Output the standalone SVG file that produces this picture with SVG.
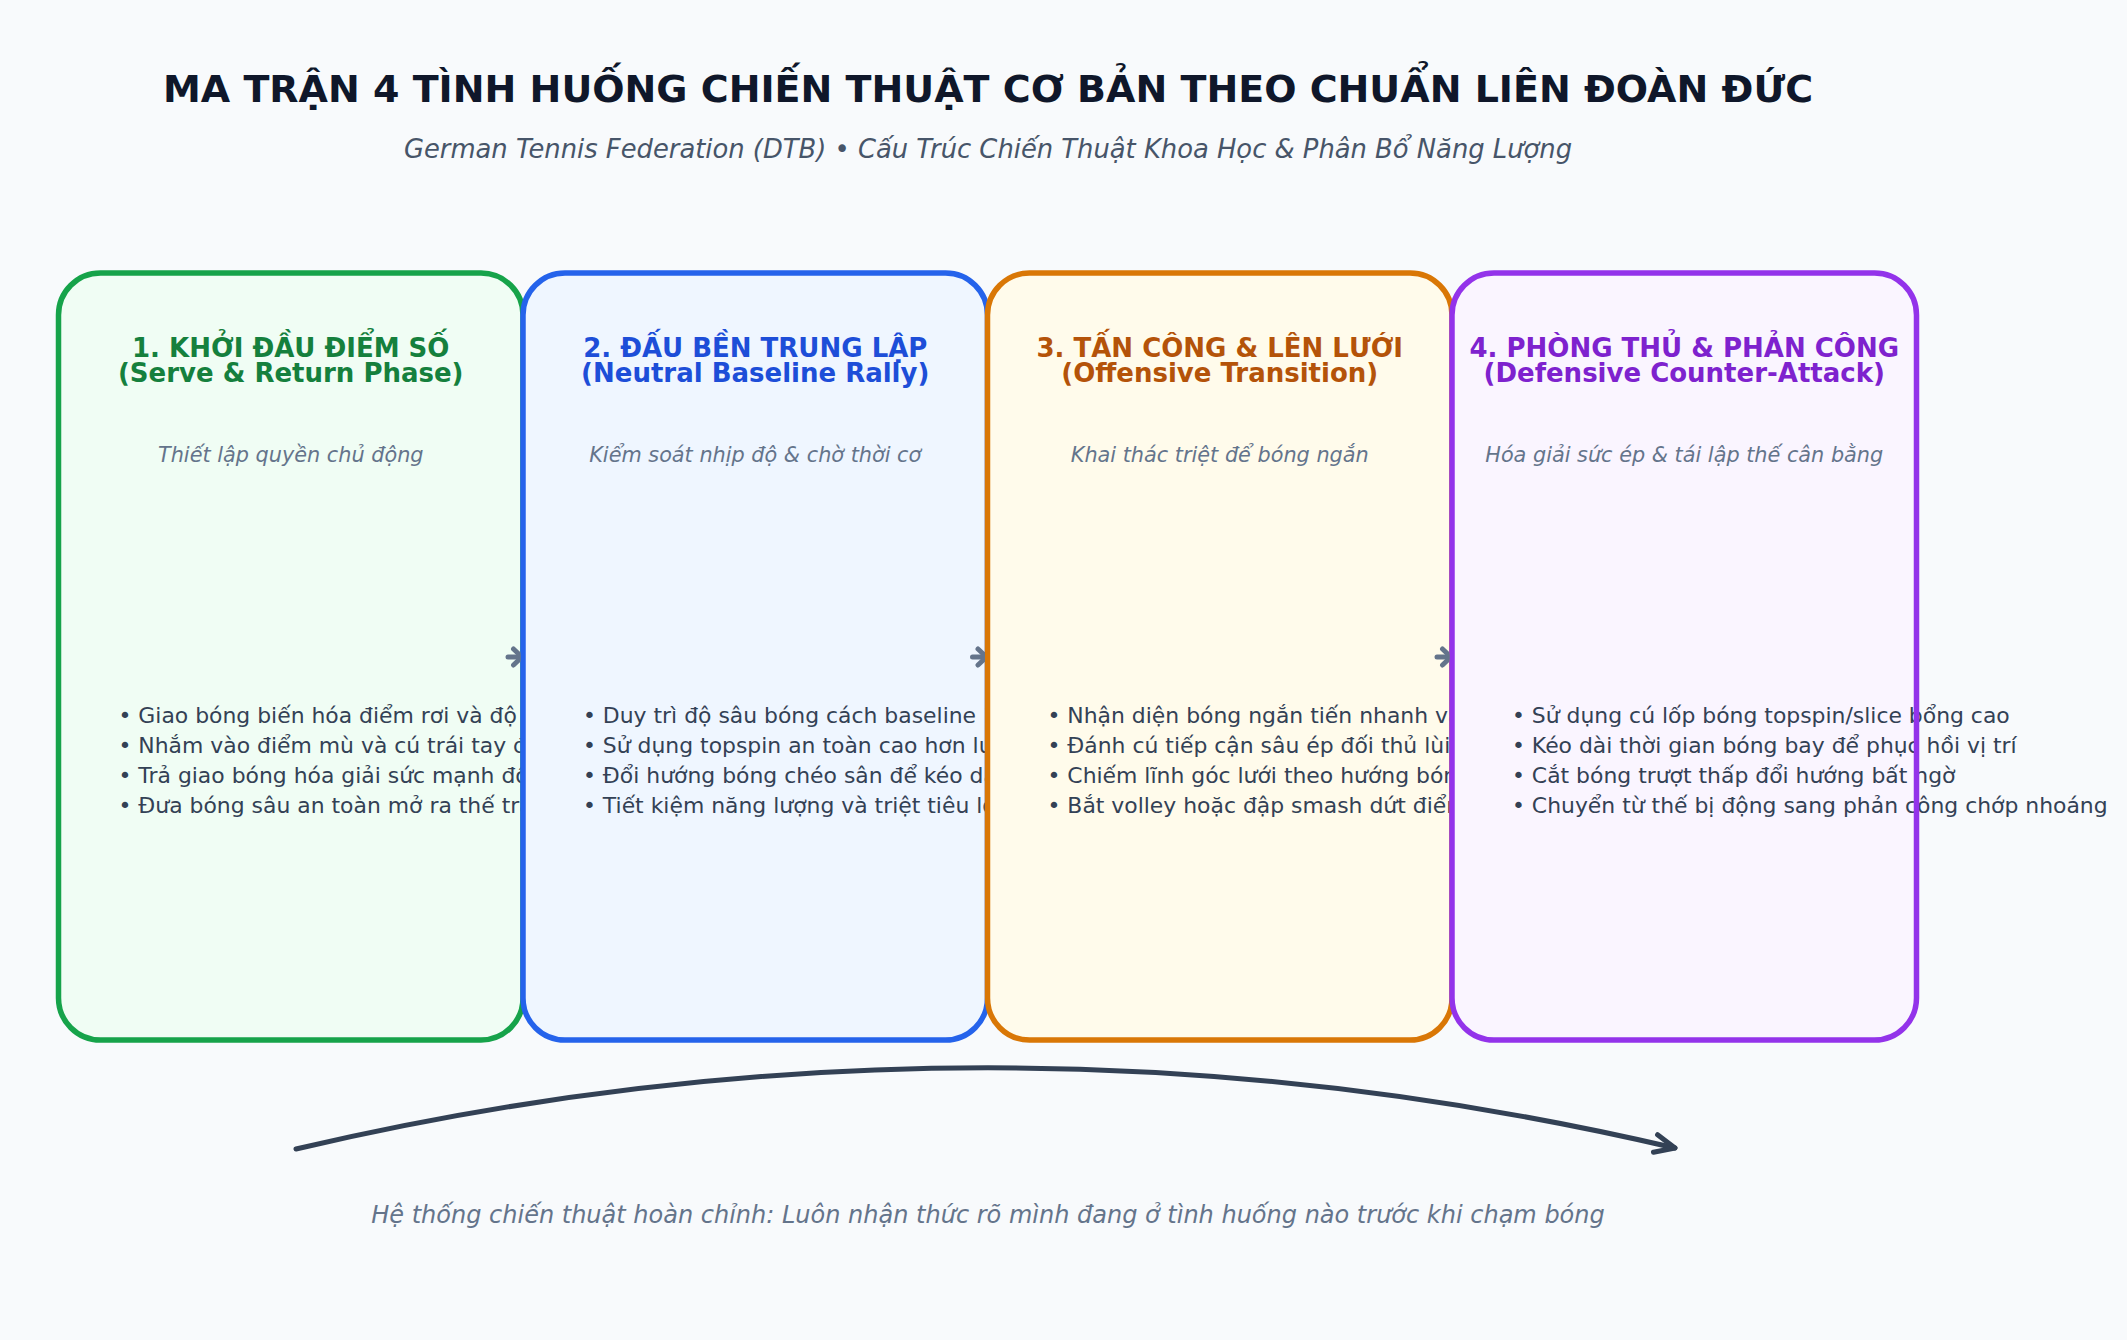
<svg xmlns="http://www.w3.org/2000/svg" width="2127" height="1340" viewBox="0 0 2127 1340">
  <style>
    text { font-family: "DejaVu Sans", "Noto Sans", sans-serif; }
    .title { font-size: 38px; font-weight: bold; fill: #0f172a; text-anchor: middle; }
    .sub { font-size: 25.8px; font-style: italic; fill: #475569; text-anchor: middle; }
    .ct { font-size: 26px; font-weight: bold; text-anchor: middle; }
    .cs { font-size: 20.8px; font-style: italic; fill: #64748b; text-anchor: middle; }
    .bl { font-size: 21.9px; fill: #334155; }
    .cap { font-size: 24px; font-style: italic; fill: #64748b; text-anchor: middle; }
    .bd { fill: none; stroke-width: 5.5; }
    .step { fill: none; stroke: #64748b; stroke-width: 5; stroke-linecap: round; stroke-linejoin: round; }
    .flow { fill: none; stroke: #334155; stroke-width: 5; stroke-linecap: round; stroke-linejoin: round; }
  </style>
  <defs>
    <marker id="chev" markerUnits="userSpaceOnUse" markerWidth="30" markerHeight="30" viewBox="-15 -15 30 30" refX="0" refY="0" orient="auto" overflow="visible">
      <path d="M -8.5 -8 L 0 0 L -8.5 8" fill="none" stroke="#64748b" stroke-width="5" stroke-linecap="round" stroke-linejoin="round"/>
    </marker>
    <marker id="bigchev" markerUnits="userSpaceOnUse" markerWidth="50" markerHeight="50" viewBox="-25 -25 50 50" refX="0" refY="0" orient="auto" overflow="visible">
      <path d="M -20 -9 L 0 0 L -20 9" fill="none" stroke="#334155" stroke-width="5" stroke-linecap="round" stroke-linejoin="round"/>
    </marker>
    <clipPath id="c1"><rect x="0" y="600" width="520.5" height="120"/></clipPath>
    <clipPath id="c2"><rect x="0" y="600" width="985" height="120"/></clipPath>
    <clipPath id="c3"><rect x="0" y="600" width="1449.5" height="120"/></clipPath>
  </defs>

  <rect x="0" y="0" width="2127" height="1340" fill="#f8fafc"/>

  <g id="header">
    <text class="title" x="988" y="102">MA TRẬN 4 TÌNH HUỐNG CHIẾN THUẬT CƠ BẢN THEO CHUẨN LIÊN ĐOÀN ĐỨC</text>
    <text class="sub" x="988" y="158">German Tennis Federation (DTB) • Cấu Trúc Chiến Thuật Khoa Học &amp; Phân Bổ Năng Lượng</text>
  </g>

  <g id="card1">
    <rect x="58.5" y="273" width="464.5" height="767" rx="42" fill="#f0fdf4"/>
    <text class="ct" fill="#15803d" x="290.75" y="357">1. KHỞI ĐẦU ĐIỂM SỐ</text>
    <text class="ct" fill="#15803d" x="290.75" y="382">(Serve &amp; Return Phase)</text>
    <text class="cs" x="290.75" y="462">Thiết lập quyền chủ động</text>
    <text class="bl" x="118.5" y="723">• Giao bóng biến hóa điểm rơi và độ xoáy</text>
    <text class="bl" x="118.5" y="753">• Nhắm vào điểm mù và cú trái tay đối thủ</text>
    <text class="bl" x="118.5" y="783">• Trả giao bóng hóa giải sức mạnh đối thủ</text>
    <text class="bl" x="118.5" y="813">• Đưa bóng sâu an toàn mở ra thế trận</text>
    <rect class="bd" stroke="#16a34a" x="58.5" y="273" width="464.5" height="767" rx="42"/>
  </g>

  <g id="card2">
    <rect x="523" y="273" width="464.5" height="767" rx="42" fill="#eff6ff"/>
    <text class="ct" fill="#1d4ed8" x="755.25" y="357">2. ĐẤU BỀN TRUNG LẬP</text>
    <text class="ct" fill="#1d4ed8" x="755.25" y="382">(Neutral Baseline Rally)</text>
    <text class="cs" x="755.25" y="462">Kiểm soát nhịp độ &amp; chờ thời cơ</text>
    <text class="bl" x="583" y="723">• Duy trì độ sâu bóng cách baseline 1-2m</text>
    <text class="bl" x="583" y="753">• Sử dụng topspin an toàn cao hơn lưới</text>
    <text class="bl" x="583" y="783">• Đổi hướng bóng chéo sân để kéo dài</text>
    <text class="bl" x="583" y="813">• Tiết kiệm năng lượng và triệt tiêu lỗi</text>
    <rect class="bd" stroke="#2563eb" x="523" y="273" width="464.5" height="767" rx="42"/>
  </g>

  <g id="card3">
    <rect x="987.5" y="273" width="464.5" height="767" rx="42" fill="#fffbeb"/>
    <text class="ct" fill="#b45309" x="1219.75" y="357">3. TẤN CÔNG &amp; LÊN LƯỚI</text>
    <text class="ct" fill="#b45309" x="1219.75" y="382">(Offensive Transition)</text>
    <text class="cs" x="1219.75" y="462">Khai thác triệt để bóng ngắn</text>
    <text class="bl" x="1047.5" y="723">• Nhận diện bóng ngắn tiến nhanh vào sân</text>
    <text class="bl" x="1047.5" y="753">• Đánh cú tiếp cận sâu ép đối thủ lùi về</text>
    <text class="bl" x="1047.5" y="783">• Chiếm lĩnh góc lưới theo hướng bóng</text>
    <text class="bl" x="1047.5" y="813">• Bắt volley hoặc đập smash dứt điểm</text>
    <rect class="bd" stroke="#d97706" x="987.5" y="273" width="464.5" height="767" rx="42"/>
  </g>

  <g id="card4">
    <rect x="1452" y="273" width="464.5" height="767" rx="42" fill="#faf5ff"/>
    <text class="ct" fill="#7e22ce" x="1684.25" y="357">4. PHÒNG THỦ &amp; PHẢN CÔNG</text>
    <text class="ct" fill="#7e22ce" x="1684.25" y="382">(Defensive Counter-Attack)</text>
    <text class="cs" x="1684.25" y="462">Hóa giải sức ép &amp; tái lập thế cân bằng</text>
    <text class="bl" x="1512" y="723">• Sử dụng cú lốp bóng topspin/slice bổng cao</text>
    <text class="bl" x="1512" y="753">• Kéo dài thời gian bóng bay để phục hồi vị trí</text>
    <text class="bl" x="1512" y="783">• Cắt bóng trượt thấp đổi hướng bất ngờ</text>
    <text class="bl" x="1512" y="813">• Chuyển từ thế bị động sang phản công chớp nhoáng</text>
    <rect class="bd" stroke="#9333ea" x="1452" y="273" width="464.5" height="767" rx="42"/>
  </g>

  <g id="connectors">
    <path class="step" clip-path="url(#c1)" d="M 508 657 L 522 657" marker-end="url(#chev)"/>
    <path class="step" clip-path="url(#c2)" d="M 972.5 657 L 986.5 657" marker-end="url(#chev)"/>
    <path class="step" clip-path="url(#c3)" d="M 1437 657 L 1451 657" marker-end="url(#chev)"/>
    <path class="flow" d="M 296 1149 Q 986 987 1675 1148" marker-end="url(#bigchev)"/>
  </g>

  <g id="caption">
    <text class="cap" x="988" y="1223">Hệ thống chiến thuật hoàn chỉnh: Luôn nhận thức rõ mình đang ở tình huống nào trước khi chạm bóng</text>
  </g>
</svg>
